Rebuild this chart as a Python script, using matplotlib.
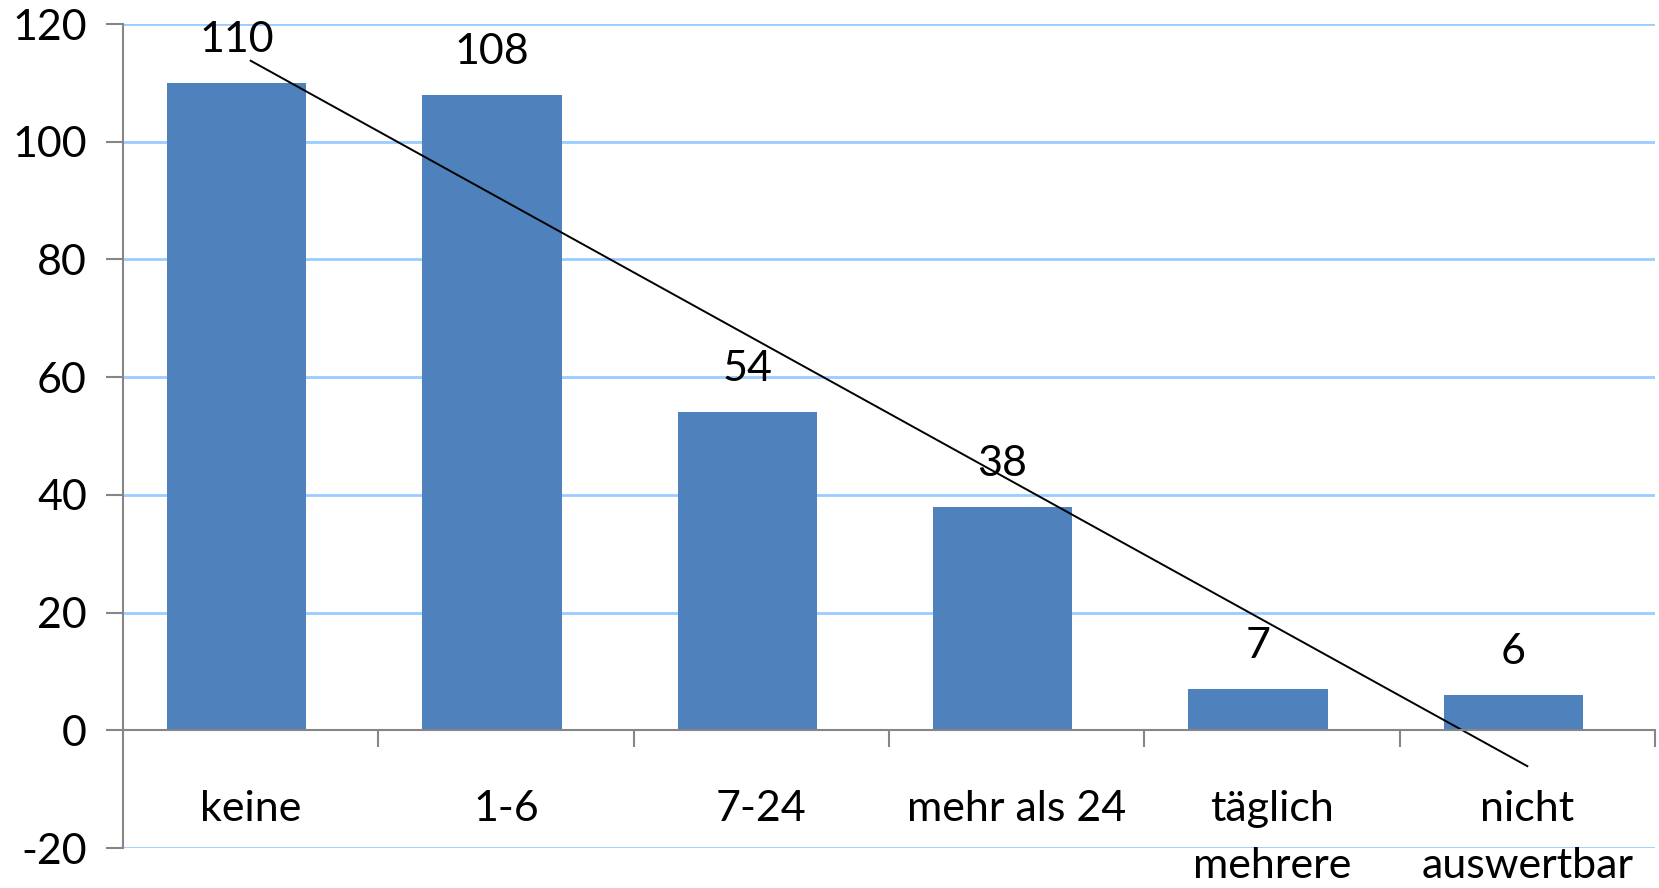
import numpy as np
import matplotlib
matplotlib.use("Agg")
import matplotlib.pyplot as plt

categories = ["keine", "1-6", "7-24", "mehr als 24", "täglich\nmehrere", "nicht\nauswertbar"]
values = [110, 108, 54, 38, 7, 6]
y_ticks = [-20, 0, 20, 40, 60, 80, 100, 120]

plt.rcParams['font.family'] = ['Lato', 'DejaVu Sans']

fig = plt.figure(figsize=(16.59, 8.88), dpi=100)
ax = fig.add_axes([123/1659, 1-848/888, (1655-123)/1659, (848-24)/888])

x = np.arange(len(categories))
bar_color = "#4F81BD"
grid_color = "#99CCFF"
axis_gray = "#868686"

ax.bar(x - 0.055, values, width=0.545, color=bar_color, zorder=3)

# data labels
for xi, v in zip(x, values):
    ax.annotate(f"{v}", (xi - 0.055, v), xytext=(0, 31), textcoords="offset points",
                ha="center", va="center", fontsize=31, zorder=5)

# linear trendline
coef = np.polyfit(x, values, 1)
ax.plot(x, np.polyval(coef, x), color="black", lw=1.4, zorder=4)

ax.set_xlim(-0.5, len(categories) - 0.5)
ax.set_ylim(-20, 120)
ax.set_yticks(y_ticks)
ax.set_yticklabels([str(t) for t in y_ticks], fontsize=31)
for t in y_ticks:
    if t != 0:
        ax.axhline(t, color=grid_color, lw=2, zorder=1)

for s in ["top", "right"]:
    ax.spines[s].set_visible(False)
ax.spines["left"].set_color(axis_gray)
ax.spines["left"].set_linewidth(1.5)
ax.spines["bottom"].set_position(("data", 0))
ax.spines["bottom"].set_color(axis_gray)
ax.spines["bottom"].set_linewidth(1.5)
ax.spines["bottom"].set_zorder(4)

ax.tick_params(axis="y", direction="out", length=12, width=1.5, color=axis_gray, pad=14)
ax.set_xticks(np.arange(0.5, len(categories), 1.0))
ax.set_xticklabels([])
ax.tick_params(axis="x", which="major", direction="out", length=12, width=1.5, color=axis_gray)
ax.set_xticks(x, minor=True)
ax.set_xticklabels(categories, minor=True, fontsize=31, linespacing=1.6, va="top")
ax.tick_params(axis="x", which="minor", length=0, pad=43)

fig.savefig("out.png", dpi=100)
